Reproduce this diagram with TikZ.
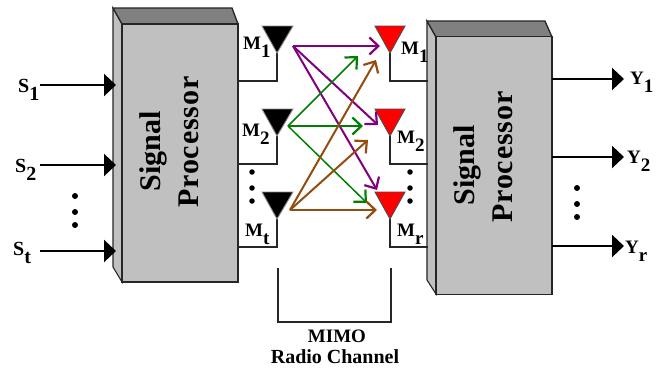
\documentclass[tikz,border=0pt]{standalone}
\usepackage{fontspec}
\setmainfont{Liberation Serif}[BoldFont={Liberation Serif Bold}]
\newfontface\spacedbold{Liberation Serif Bold}[LetterSpace=3]
\usetikzlibrary{arrows.meta}
\definecolor{cpurple}{HTML}{800080}
\definecolor{cgreen}{HTML}{008000}
\definecolor{cbrown}{HTML}{964B0F}
\definecolor{boxgray}{HTML}{C0C0C0}
\definecolor{topgray}{HTML}{808080}
\newcommand{\lab}[3]{\fontsize{#1}{#1}\selectfont #2\raisebox{-8.5pt}{#3}}
\begin{document}
\begin{tikzpicture}[x=1pt,y=-1pt,
  every node/.style={font=\bfseries},
  frontbox/.style={draw=black!85,line width=1.3pt,fill=boxgray,inner sep=0pt,minimum width=116pt,minimum height=258pt},
  topface/.style={draw=black!85,line width=1.3pt,fill=topgray},
  sideface/.style={draw=black!85,line width=1.1pt,fill=boxgray},
  titlelab/.style={rotate=90,inner sep=0pt},
  ioarrow/.style={line width=2.4pt,-{Triangle[length=12pt,width=22pt]}},
  wire/.style={draw=black!85,line width=1.2pt},
  txant/.style={draw=black!45,line width=.9pt,fill=black},
  rxant/.style={draw=black!70,line width=.9pt,fill=red},
  link/.style={line width=2pt,-{Straight Barb[length=9pt,width=17pt,line width=2.2pt]}},
  thinlink/.style={line width=1.5pt,-{Straight Barb[length=9pt,width=17pt,line width=2.2pt]}},
  lbl/.style={anchor=base west,inner sep=0pt},
  pt/.style={circle,fill=black,inner sep=0pt,minimum size=6pt}]
\useasboundingbox (0,0) rectangle (659,370);

% left processor
\fill[white] (0,0) rectangle (659,370);
\draw[sideface] (113,8) -- (122,24) -- (122,282) -- (113,267) -- cycle;
\draw[topface] (113,8) -- (232,8) -- (238,24) -- (122,24) -- cycle;
\node[frontbox] (spl) at (180,153) {};
\node[titlelab,font=\bfseries\fontsize{30}{30}\selectfont] (spl1) at (153,151) {Signal};
\node[titlelab,font=\spacedbold\fontsize{30}{30}\selectfont] (spl2) at (189,142) {Processor};

% right processor
\draw[sideface] (427,21) -- (436,37) -- (436,294) -- (427,280) -- cycle;
\draw[topface] (427,21) -- (545,21) -- (552,37) -- (436,37) -- cycle;
\node[frontbox] (spr) at (494,165.5) {};
\node[titlelab,font=\bfseries\fontsize{30}{30}\selectfont] (spr1) at (467,165) {Signal};
\node[titlelab,font=\spacedbold\fontsize{30}{30}\selectfont] (spr2) at (503,157) {Processor};

% inputs
\coordinate (is1) at (40,85); \coordinate (ie1) at (116,85);
\coordinate (is2) at (40,165); \coordinate (ie2) at (116,165);
\coordinate (is3) at (40,251); \coordinate (ie3) at (116,251);
\draw[ioarrow] (is1) -- (ie1);
\draw[ioarrow] (is2) -- (ie2);
\draw[ioarrow] (is3) -- (ie3);
\node[lbl] (ls1) at (18,92) {\lab{20}{S}{1}};
\node[lbl] (ls2) at (15,172) {\lab{20}{S}{2}};
\node[lbl] (ls3) at (13,255) {\lab{20}{S}{t}};
\node[pt] (d1) at (75,196) {}; \node[pt] (d2) at (75,212) {}; \node[pt] (d3) at (75,225) {};

% outputs
\coordinate (os1) at (552,79); \coordinate (oe1) at (624,79);
\coordinate (os2) at (552,157); \coordinate (oe2) at (624,157);
\coordinate (os3) at (552,246); \coordinate (oe3) at (624,246);
\draw[ioarrow] (os1) -- (oe1);
\draw[ioarrow] (os2) -- (oe2);
\draw[ioarrow] (os3) -- (oe3);
\node[lbl] (ly1) at (630,84) {\lab{19}{Y}{1}};
\node[lbl] (ly2) at (627,163) {\lab{19}{Y}{2}};
\node[lbl] (ly3) at (625,253) {\lab{19}{Y}{r}};
\node[pt] (d4) at (577,188) {}; \node[pt] (d5) at (577,204) {}; \node[pt] (d6) at (577,217) {};

% wires to the antennas
\coordinate (ta1) at (277,53); \coordinate (tb1) at (277,81); \coordinate (tc1) at (238,81);
\coordinate (ta2) at (277,136); \coordinate (tb2) at (277,164); \coordinate (tc2) at (238,164);
\coordinate (ta3) at (277,219); \coordinate (tb3) at (277,247); \coordinate (tc3) at (238,247);
\coordinate (ra1) at (390,53); \coordinate (rb1) at (390,81); \coordinate (rc1) at (428,81);
\coordinate (ra2) at (390,136); \coordinate (rb2) at (390,164); \coordinate (rc2) at (428,164);
\coordinate (ra3) at (390,219); \coordinate (rb3) at (390,247); \coordinate (rc3) at (428,247);
\draw[wire] (ta1) -- (tb1) -- (tc1);
\draw[wire] (ta2) -- (tb2) -- (tc2);
\draw[wire] (ta3) -- (tb3) -- (tc3);
\draw[wire] (ra1) -- (rb1) -- (rc1);
\draw[wire] (ra2) -- (rb2) -- (rc2);
\draw[wire] (ra3) -- (rb3) -- (rc3);

% antennas
\draw[txant] (262,26) -- (293,26) -- (ta1) -- cycle;
\draw[txant] (262,109) -- (293,109) -- (ta2) -- cycle;
\draw[txant] (262,192) -- (293,192) -- (ta3) -- cycle;
\draw[rxant] (375,26) -- (405,26) -- (ra1) -- cycle;
\draw[rxant] (375,109) -- (405,109) -- (ra2) -- cycle;
\draw[rxant] (375,192) -- (405,192) -- (ra3) -- cycle;

% channel links
\coordinate (p0) at (293,46); \coordinate (g0) at (288,126); \coordinate (b0) at (290,210);
\coordinate (r1) at (380,46); \coordinate (r2) at (378,125); \coordinate (r3) at (377,190);
\coordinate (g1) at (358,56); \coordinate (g2) at (363,126); \coordinate (g3) at (367,203);
\coordinate (br1) at (376,60); \coordinate (br2) at (368,140); \coordinate (br3) at (377,210);
\draw[link,cpurple] (p0) -- (r1);
\draw[link,cpurple] (p0) -- (r2);
\draw[link,cpurple] (p0) -- (r3);
\draw[thinlink,cgreen] (g0) -- (g1);
\draw[link,cgreen] (g0) -- (g2);
\draw[thinlink,cgreen] (g0) -- (g3);
\draw[link,cbrown] (b0) -- (br1);
\draw[link,cbrown] (b0) -- (br2);
\draw[link,cbrown] (b0) -- (br3);

% antenna labels
\node[lbl] (m1) at (243,49) {\lab{19}{M}{1}};
\node[lbl] (m2) at (242,136) {\lab{19}{M}{2}};
\node[lbl] (m3) at (245,236) {\lab{19}{M}{t}};
\node[lbl] (n1) at (401,54) {\lab{19}{M}{1}};
\node[lbl] (n2) at (397,143) {\lab{19}{M}{2}};
\node[lbl] (n3) at (397,236) {\lab{19}{M}{r}};
\node[pt,minimum size=5.5pt] (d7) at (252,172) {}; \node[pt,minimum size=5.5pt] (d8) at (252,188) {}; \node[pt,minimum size=5.5pt] (d9) at (252,201) {};
\node[pt,minimum size=5.5pt] (d10) at (410,172) {}; \node[pt,minimum size=5.5pt] (d11) at (410,188) {}; \node[pt,minimum size=5.5pt] (d12) at (410,201) {};

% channel bracket
\coordinate (k1) at (278,268); \coordinate (k2) at (278,322); \coordinate (k3) at (391,322); \coordinate (k4) at (391,268);
\draw[wire] (k1) -- (k2) -- (k3) -- (k4);
\node[inner sep=0pt,font=\bfseries\fontsize{19}{19}\selectfont] (mimo) at (337,336) {MIMO};
\node[inner sep=0pt,font=\bfseries\fontsize{20}{20}\selectfont] (rc) at (335,357) {Radio Channel};
\end{tikzpicture}
\end{document}
